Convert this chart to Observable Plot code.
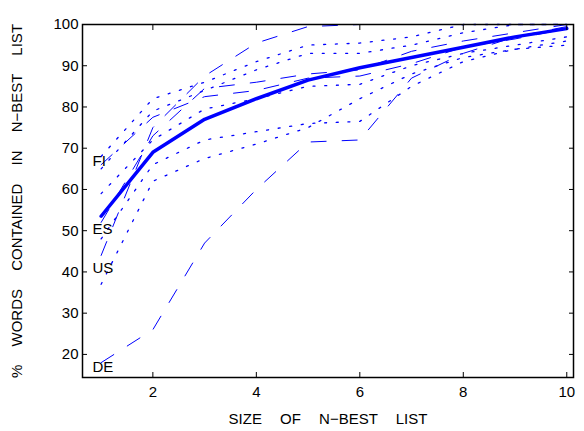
<!DOCTYPE html>
<html><head><meta charset="utf-8">
<script src="https://cdn.jsdelivr.net/npm/d3@7"></script>
<script src="https://cdn.jsdelivr.net/npm/@observablehq/plot@0.6"></script>
<style>
body{margin:0;background:#fff}
#chart svg text{word-spacing:14px}
</style>
</head><body><div id="chart"></div>
<script>
const sizes = [1,2,3,4,5,6,7,8,9,10];
const meanCurve = [53.5,69,77,82,86.5,89.5,92,94.5,97,99];
const dashedFI = [66,77.5,82.5,84,87,87.5,90.5,94.5,96.5,99];
const dashedES = [52,73,84.5,86,88,89,93.5,96,98,100];
const dashedUS = [44,75,87.5,95.5,99.5,100,100,100,100,100];
const dashedDE = [18,26,47,60,71.5,72,87,93,97,99.5];
const dottedA = [68,82,86,91,95,95.5,97,100,100,100];
const dottedB = [65,79,84,89,93,93,95,98,100,100];
const dottedC = [59,72,79.5,82,85,85.5,90,93,95,97];
const dottedD = [48,66,72,74,76,76.5,85,91,94,96];
const dottedE = [37,62,67.5,71,75,82,88,92,94,95];
const langLabels = ["FI","ES","US","DE"];
const langLabelY = [66.8,50.3,41,16.8];
const xTicks = [2,4,6,8,10];
const yTicks = [20,30,40,50,60,70,80,90,100];
const xTitle = "SIZE OF N\u2212BEST LIST";
const yTitle = "% WORDS CONTAINED IN N\u2212BEST LIST";

const toRows = (obj) => Object.entries(obj).flatMap(([name, vals]) => sizes.map((n, i) => ({name, n, v: vals[i]})));
const dashedRows = toRows({dashedFI, dashedES, dashedUS, dashedDE});
const dottedRows = toRows({dottedA, dottedB, dottedC, dottedD, dottedE});
const meanRows = toRows({meanCurve});
const blue = "#0000ff";
const font = "Liberation Sans, Arial, Helvetica, sans-serif";

const chart = Plot.plot({
  width: 584, height: 431,
  marginLeft: 82, marginRight: 11, marginTop: 24, marginBottom: 54,
  x: {domain: [0.64, 10.13]},
  y: {domain: [14.4, 100]},
  style: {fontFamily: font, fontSize: "15px", background: "white", color: "black"},
  marks: [
    Plot.lineY(dottedRows, {x: "n", y: "v", z: "name", stroke: blue, strokeWidth: 1.3, strokeDasharray: "2,9.7"}),
    Plot.lineY(dashedRows, {x: "n", y: "v", z: "name", stroke: blue, strokeWidth: 1, strokeDasharray: "15,16"}),
    Plot.lineY(meanRows, {x: "n", y: "v", z: "name", stroke: blue, strokeWidth: 3.5}),
    Plot.text(langLabels, {frameAnchor: "left", y: (d, i) => langLabelY[i], text: d => d, dx: 10, textAnchor: "start", fontSize: 15}),
    Plot.axisX(xTicks, {anchor: "bottom", tickSize: -5, tickFormat: () => "", label: null}),
    Plot.axisX(xTicks, {anchor: "top", tickSize: -5, tickFormat: () => "", label: null}),
    Plot.axisY(yTicks, {anchor: "left", tickSize: -5, tickFormat: () => "", label: null}),
    Plot.axisY(yTicks, {anchor: "right", tickSize: -5, tickFormat: () => "", label: null}),
    Plot.axisX(xTicks, {anchor: "bottom", tickSize: 0, tickPadding: 9, label: null, fontSize: 15}),
    Plot.axisY(yTicks, {anchor: "left", tickSize: 0, tickPadding: 4, label: null, fontSize: 15}),
    Plot.frame({stroke: "black", strokeWidth: 1.5}),
    Plot.text([xTitle], {frameAnchor: "bottom", dy: 42, fontSize: 15, textAnchor: "middle", lineAnchor: "middle"}),
    Plot.text([yTitle], {frameAnchor: "left", rotate: -90, dx: -65, fontSize: 15, textAnchor: "middle", lineAnchor: "middle"})
  ]
});
document.getElementById("chart").appendChild(chart);
</script>
</body></html>
